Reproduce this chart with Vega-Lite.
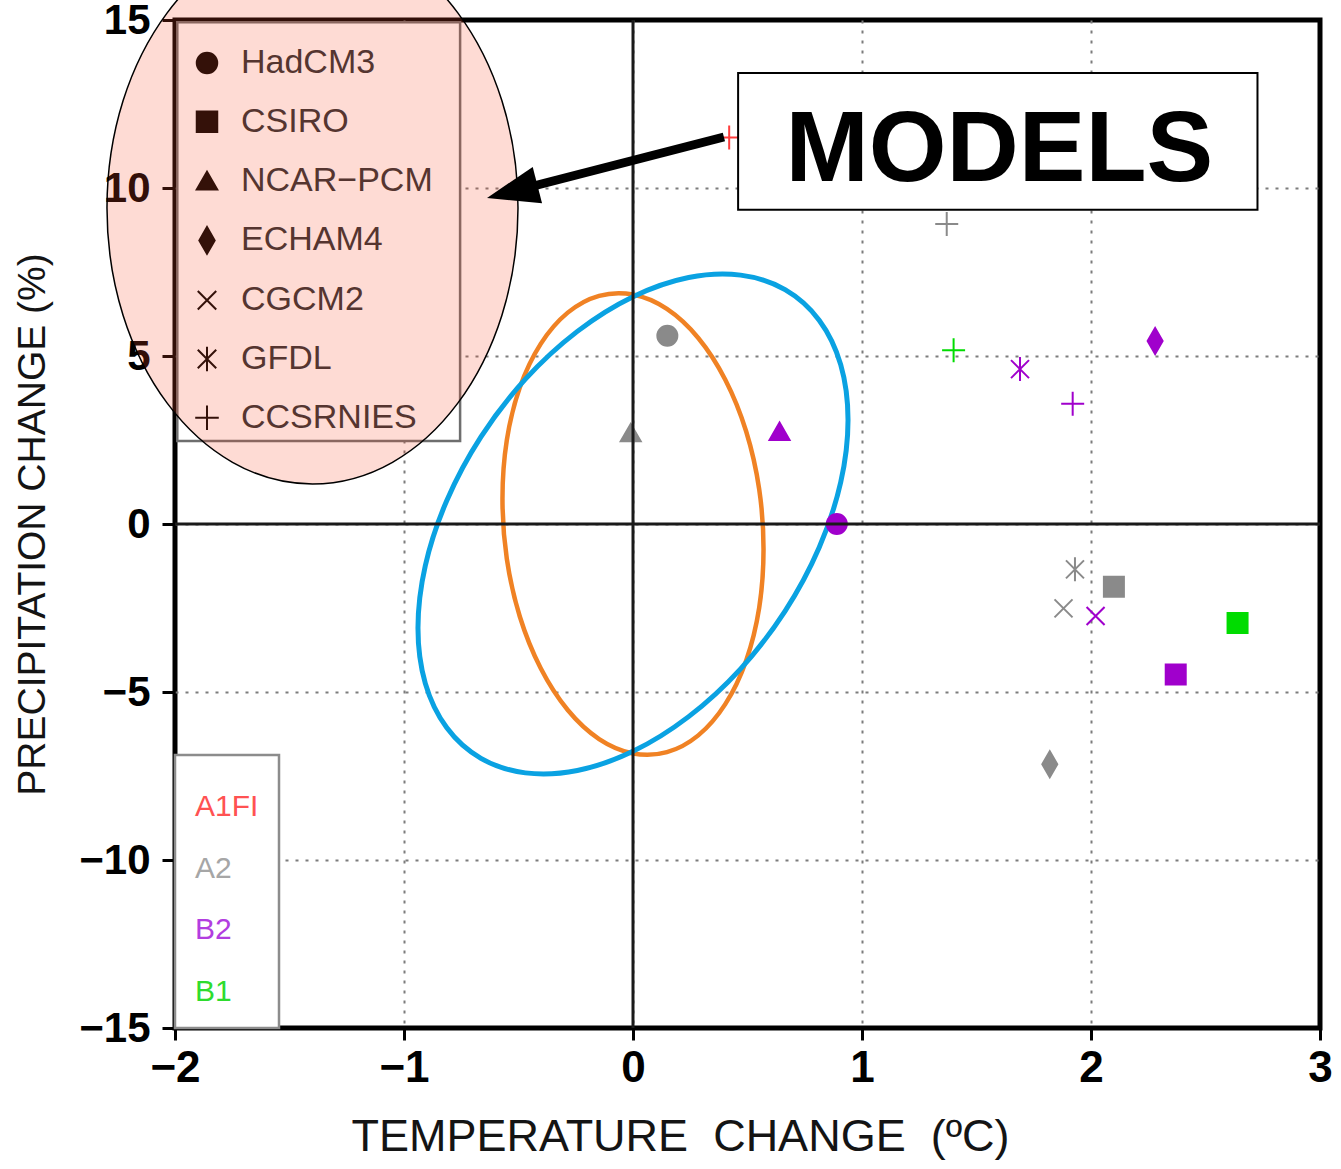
{
  "$schema": "https://vega.github.io/schema/vega-lite/v6.json",
  "width": 1145,
  "height": 1008,
  "autosize": {"type": "none"},
  "padding": {"left": 175, "top": 20, "right": 21, "bottom": 141},
  "background": "white",
  "datasets": {
    "projections": [
      {"model": "HadCM3", "scenario": "A2", "temp": 0.15, "precip": 5.6},
      {"model": "HadCM3", "scenario": "B2", "temp": 0.89, "precip": 0.0},
      {"model": "CSIRO", "scenario": "A2", "temp": 2.10, "precip": -1.87},
      {"model": "CSIRO", "scenario": "B1", "temp": 2.64, "precip": -2.95},
      {"model": "CSIRO", "scenario": "B2", "temp": 2.37, "precip": -4.48},
      {"model": "NCAR−PCM", "scenario": "A2", "temp": -0.01, "precip": 2.72},
      {"model": "NCAR−PCM", "scenario": "B2", "temp": 0.64, "precip": 2.76},
      {"model": "ECHAM4", "scenario": "B2", "temp": 2.28, "precip": 5.45},
      {"model": "ECHAM4", "scenario": "A2", "temp": 1.82, "precip": -7.15},
      {"model": "CGCM2", "scenario": "A2", "temp": 1.88, "precip": -2.51},
      {"model": "CGCM2", "scenario": "B2", "temp": 2.02, "precip": -2.74},
      {"model": "GFDL", "scenario": "B2", "temp": 1.69, "precip": 4.61},
      {"model": "GFDL", "scenario": "A2", "temp": 1.93, "precip": -1.35},
      {"model": "CCSRNIES", "scenario": "A1FI", "temp": 0.42, "precip": 11.5},
      {"model": "CCSRNIES", "scenario": "A2", "temp": 1.37, "precip": 8.93},
      {"model": "CCSRNIES", "scenario": "B1", "temp": 1.40, "precip": 5.17},
      {"model": "CCSRNIES", "scenario": "B2", "temp": 1.92, "precip": 3.58}
    ],
    "range_blue": [
      {"i": 1, "temp": 0.939, "precip": 3.097},
      {"i": 2, "temp": 0.907, "precip": 4.742},
      {"i": 3, "temp": 0.813, "precip": 6.064},
      {"i": 4, "temp": 0.664, "precip": 6.973},
      {"i": 5, "temp": 0.470, "precip": 7.407},
      {"i": 6, "temp": 0.243, "precip": 7.336},
      {"i": 7, "temp": 0.000, "precip": 6.764},
      {"i": 8, "temp": -0.243, "precip": 5.733},
      {"i": 9, "temp": -0.470, "precip": 4.310},
      {"i": 10, "temp": -0.664, "precip": 2.593},
      {"i": 11, "temp": -0.813, "precip": 0.700},
      {"i": 12, "temp": -0.907, "precip": -1.241},
      {"i": 13, "temp": -0.939, "precip": -3.097},
      {"i": 14, "temp": -0.907, "precip": -4.742},
      {"i": 15, "temp": -0.813, "precip": -6.064},
      {"i": 16, "temp": -0.664, "precip": -6.973},
      {"i": 17, "temp": -0.470, "precip": -7.407},
      {"i": 18, "temp": -0.243, "precip": -7.336},
      {"i": 19, "temp": 0.000, "precip": -6.764},
      {"i": 20, "temp": 0.243, "precip": -5.733},
      {"i": 21, "temp": 0.470, "precip": -4.310},
      {"i": 22, "temp": 0.664, "precip": -2.593},
      {"i": 23, "temp": 0.813, "precip": -0.700},
      {"i": 24, "temp": 0.907, "precip": 1.241}
    ],
    "range_orange": [
      {"i": 1, "temp": 0.570, "precip": -0.754},
      {"i": 2, "temp": 0.551, "precip": 1.039},
      {"i": 3, "temp": 0.494, "precip": 2.761},
      {"i": 4, "temp": 0.403, "precip": 4.295},
      {"i": 5, "temp": 0.285, "precip": 5.537},
      {"i": 6, "temp": 0.148, "precip": 6.401},
      {"i": 7, "temp": 0.000, "precip": 6.829},
      {"i": 8, "temp": -0.148, "precip": 6.791},
      {"i": 9, "temp": -0.285, "precip": 6.291},
      {"i": 10, "temp": -0.403, "precip": 5.361},
      {"i": 11, "temp": -0.494, "precip": 4.067},
      {"i": 12, "temp": -0.551, "precip": 2.496},
      {"i": 13, "temp": -0.570, "precip": 0.754},
      {"i": 14, "temp": -0.551, "precip": -1.039},
      {"i": 15, "temp": -0.494, "precip": -2.761},
      {"i": 16, "temp": -0.403, "precip": -4.295},
      {"i": 17, "temp": -0.285, "precip": -5.537},
      {"i": 18, "temp": -0.148, "precip": -6.401},
      {"i": 19, "temp": 0.000, "precip": -6.829},
      {"i": 20, "temp": 0.148, "precip": -6.791},
      {"i": 21, "temp": 0.285, "precip": -6.291},
      {"i": 22, "temp": 0.403, "precip": -5.361},
      {"i": 23, "temp": 0.494, "precip": -4.067},
      {"i": 24, "temp": 0.551, "precip": -2.496}
    ]
  },
  "layer": [
    {
      "description": "White backing and frame of the model legend",
      "data": {"values": [{}]},
      "mark": {"type": "rect", "fill": "white", "stroke": "#6e6e6e", "strokeWidth": 2.5},
      "encoding": {
        "x": {"datum": -1.99, "type": "quantitative", "scale": {"domain": [-2, 3], "nice": false, "zero": false}},
        "x2": {"datum": -0.755},
        "y": {"datum": 14.93, "type": "quantitative", "scale": {"domain": [-15, 15], "nice": false, "zero": false}},
        "y2": {"datum": 2.47}
      }
    },
    {
      "data": {"name": "range_orange"},
      "mark": {"type": "line", "interpolate": "cardinal-closed", "color": "#f08224", "strokeWidth": 4.5},
      "encoding": {
        "x": {"field": "temp", "type": "quantitative", "scale": {"domain": [-2, 3], "nice": false, "zero": false}},
        "y": {"field": "precip", "type": "quantitative", "scale": {"domain": [-15, 15], "nice": false, "zero": false}},
        "order": {"field": "i", "type": "quantitative"}
      }
    },
    {
      "data": {"name": "range_blue"},
      "mark": {"type": "line", "interpolate": "cardinal-closed", "color": "#0aa2e2", "strokeWidth": 5},
      "encoding": {
        "x": {"field": "temp", "type": "quantitative", "scale": {"domain": [-2, 3], "nice": false, "zero": false}},
        "y": {"field": "precip", "type": "quantitative", "scale": {"domain": [-15, 15], "nice": false, "zero": false}},
        "order": {"field": "i", "type": "quantitative"}
      }
    },
    {
      "data": {"name": "projections"},
      "mark": {"type": "point", "filled": true, "opacity": 1, "size": 400, "strokeWidth": 2},
      "encoding": {
        "x": {
          "field": "temp", "type": "quantitative",
          "scale": {"domain": [-2, 3], "nice": false, "zero": false},
          "axis": {
            "values": [-2, -1, 0, 1, 2, 3],
            "tickCount": 6,
            "grid": true,
            "labelOverlap": false,
            "gridOpacity": {"condition": {"test": "datum.value <= -2 || datum.value >= 3", "value": 0}, "value": 1},
            "tickSize": 12,
            "labelPadding": 6,
            "title": "TEMPERATURE\u00a0 CHANGE\u00a0 (ºC)",
            "titleFontSize": 45,
            "titlePadding": 24,
            "titleX": 505
          }
        },
        "y": {
          "field": "precip", "type": "quantitative",
          "scale": {"domain": [-15, 15], "nice": false, "zero": false},
          "axis": {
            "values": [-15, -10, -5, 0, 5, 10, 15],
            "tickCount": 7,
            "grid": true,
            "labelOverlap": false,
            "gridOpacity": {"condition": {"test": "abs(datum.value) >= 15", "value": 0}, "value": 1},
            "tickSize": 13,
            "labelPadding": 12,
            "labelFontSize": 42,
            "title": "PRECIPITATION CHANGE (%)",
            "titleFontSize": 39,
            "titlePadding": 26
          }
        },
        "shape": {
          "field": "model", "type": "nominal",
          "scale": {
            "domain": ["HadCM3", "CSIRO", "NCAR−PCM", "ECHAM4", "CGCM2", "GFDL", "CCSRNIES"],
            "range": [
              "circle",
              "square",
              "triangle-up",
              "M 0 -1.3 L 0.75 0 L 0 1.3 L -0.75 0 Z",
              "M -0.9 -0.9 L 0.9 0.9 M -0.9 0.9 L 0.9 -0.9",
              "M -0.9 -0.9 L 0.9 0.9 M -0.9 0.9 L 0.9 -0.9 M 0 -1.2 L 0 1.2",
              "M -1.15 0 L 1.15 0 M 0 -1.2 L 0 1.2"
            ]
          },
          "legend": {
            "title": " ",
            "titleFontSize": 1,
            "titlePadding": 10,
            "orient": "top-left",
            "offset": 0,
            "padding": 15,
            "rowPadding": 24.8,
            "symbolSize": 420,
            "symbolFillColor": "#341109",
            "symbolStrokeColor": "#341109",
            "symbolStrokeWidth": 2,
            "labelFont": "Liberation Sans",
            "labelFontSize": 34,
            "labelColor": "#553530",
            "labelOffset": 17,
            "labelLimit": 400,
            "encode": {
              "symbols": {"update": {"fill": {"value": "#341109"}, "stroke": {"value": "#341109"}, "strokeWidth": {"value": 2}, "opacity": {"value": 1}}}
            }
          }
        },
        "fill": {
          "field": "scenario", "type": "nominal",
          "scale": {"domain": ["A1FI", "A2", "B2", "B1"], "range": ["#ff3c3c", "#8a8a8a", "#a000cc", "#00dc00"]},
          "legend": {
            "title": " ",
            "titleFontSize": 6,
            "titlePadding": 11,
            "orient": "bottom-left",
            "offset": 0,
            "padding": 20,
            "rowPadding": 31.7,
            "symbolSize": 0,
            "symbolOpacity": 0,
            "labelFont": "Liberation Sans",
            "labelFontSize": 30,
            "labelOffset": -30,
            "labelExpr": "datum.label + '\u00a0\u00a0'",
            "fillColor": "white",
            "strokeColor": "#8c8c8c",
            "encode": {
              "labels": {
                "update": {
                  "fill": [
                    {"test": "datum.value === 'A1FI'", "value": "#ff5252"},
                    {"test": "datum.value === 'A2'", "value": "#a6a6a6"},
                    {"test": "datum.value === 'B2'", "value": "#b23ee0"},
                    {"value": "#2edc2e"}
                  ]
                }
              },
              "legend": {"update": {"strokeWidth": {"value": 2.5}}}
            }
          }
        },
        "stroke": {
          "field": "scenario", "type": "nominal",
          "scale": {"domain": ["A1FI", "A2", "B2", "B1"], "range": ["#ff3c3c", "#8a8a8a", "#a000cc", "#00dc00"]},
          "legend": null
        }
      }
    },
    {
      "data": {"values": [{}]},
      "mark": {"type": "rule", "color": "#1a1a1a", "strokeWidth": 3},
      "encoding": {
        "x": {"datum": 0, "type": "quantitative", "scale": {"domain": [-2, 3], "nice": false, "zero": false}}
      }
    },
    {
      "data": {"values": [{}]},
      "mark": {"type": "rule", "color": "#1a1a1a", "strokeWidth": 3},
      "encoding": {
        "y": {"datum": 0, "type": "quantitative", "scale": {"domain": [-15, 15], "nice": false, "zero": false}}
      }
    },
    {
      "description": "Translucent highlight around the model legend",
      "data": {"values": [{}]},
      "mark": {
        "type": "point",
        "shape": "M -0.7446 0 A 0.7446 1 0 1 0 0.7446 0 A 0.7446 1 0 1 0 -0.7446 0 Z",
        "size": 304704,
        "filled": true,
        "fill": "#fa4b28",
        "fillOpacity": 0.2,
        "stroke": "black",
        "strokeWidth": 1.5,
        "strokeOpacity": 1,
        "opacity": 1
      },
      "encoding": {
        "x": {"datum": -1.3996, "type": "quantitative", "scale": {"domain": [-2, 3], "nice": false, "zero": false}},
        "y": {"datum": 9.405, "type": "quantitative", "scale": {"domain": [-15, 15], "nice": false, "zero": false}}
      }
    },
    {
      "data": {"values": [{}]},
      "mark": {"type": "rule", "color": "black", "strokeWidth": 9, "strokeCap": "butt"},
      "encoding": {
        "x": {"datum": 0.397, "type": "quantitative", "scale": {"domain": [-2, 3], "nice": false, "zero": false}},
        "y": {"datum": 11.518, "type": "quantitative", "scale": {"domain": [-15, 15], "nice": false, "zero": false}},
        "x2": {"datum": -0.5275},
        "y2": {"datum": 9.896}
      }
    },
    {
      "data": {"values": [{}]},
      "mark": {"type": "point", "shape": "M -1 0 L 1 -0.72 L 1 0.72 Z", "size": 2704, "filled": true, "color": "black", "opacity": 1, "angle": 345.57},
      "encoding": {
        "x": {"datum": -0.5275, "type": "quantitative", "scale": {"domain": [-2, 3], "nice": false, "zero": false}},
        "y": {"datum": 9.896, "type": "quantitative", "scale": {"domain": [-15, 15], "nice": false, "zero": false}}
      }
    },
    {
      "data": {"values": [{}]},
      "mark": {"type": "rect", "fill": "white", "stroke": "black", "strokeWidth": 2},
      "encoding": {
        "x": {"datum": 0.459, "type": "quantitative", "scale": {"domain": [-2, 3], "nice": false, "zero": false}},
        "x2": {"datum": 2.727},
        "y": {"datum": 13.42, "type": "quantitative", "scale": {"domain": [-15, 15], "nice": false, "zero": false}},
        "y2": {"datum": 9.354}
      }
    },
    {
      "data": {"values": [{}]},
      "mark": {"type": "text", "text": "MODELS", "font": "Liberation Sans", "fontSize": 100, "fontWeight": "bold", "align": "center", "baseline": "alphabetic", "color": "black"},
      "encoding": {
        "x": {"datum": 1.60, "type": "quantitative", "scale": {"domain": [-2, 3], "nice": false, "zero": false}},
        "y": {"datum": 10.22, "type": "quantitative", "scale": {"domain": [-15, 15], "nice": false, "zero": false}}
      }
    }
  ],
  "config": {
    "font": "Liberation Sans",
    "view": {"stroke": "black", "strokeWidth": 5},
    "axis": {
      "domain": false,
      "grid": true,
      "gridColor": "#7c7c7c",
      "gridDash": [3, 7],
      "gridWidth": 2,
      "tickWidth": 3,
      "tickColor": "black",
      "labelFont": "Liberation Sans",
      "labelFontSize": 44,
      "labelFontWeight": "bold",
      "labelColor": "black",
      "labelFlush": false,
      "labelOverlap": false,
      "titleFont": "Liberation Sans",
      "titleFontWeight": "normal",
      "titleColor": "#141414"
    },
    "axisX": {"tickCount": 6},
    "axisY": {"tickCount": 7}
  }
}
